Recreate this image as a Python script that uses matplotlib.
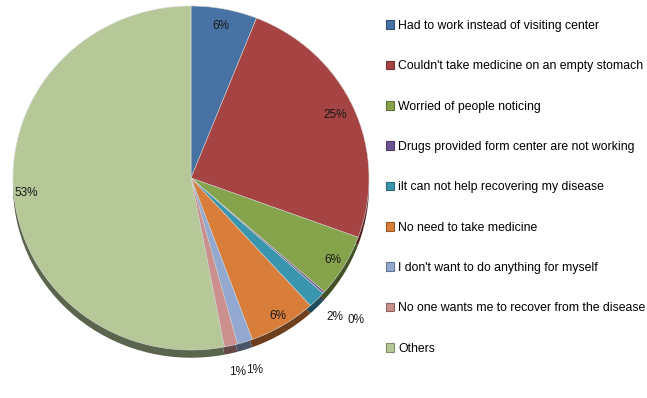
import numpy as np
import matplotlib.pyplot as plt
import matplotlib.colors as mcolors

# reasons and shares (percent)
reasons = [
    "Had to work instead of visiting center",
    "Couldn't take medicine on an empty stomach",
    "Worried of people noticing",
    "Drugs provided form center are not working",
    "ilt can not help recovering my disease",
    "No need to take medicine",
    "I don't want to do anything for myself",
    "No one wants me to recover from the disease",
    "Others",
]
shares = [6.0, 24.6, 5.9, 0.2, 1.6, 6.1, 1.4, 1.2, 53.0]
colors = ["#4872A3", "#A54442", "#85A34A", "#6E5591", "#3A96AE",
          "#D97E3A", "#93A9CF", "#CB8F8E", "#B6C897"]
# radial distance of each percentage label
label_r = [0.90, 0.89, 0.93, 1.24, 1.14, 0.94, 1.17, 1.16, 0.93]

plt.rcParams['font.family'] = ['Liberation Sans', 'DejaVu Sans']

fig = plt.figure(figsize=(6.47, 3.98), dpi=100)
W, H = 647, 398
cx, cy, rx, ry = 191, 220, 178, 172
ax = fig.add_axes([(cx - rx) / W, (cy - ry) / H, 2 * rx / W, 2 * ry / H])

# side of the 3d pie: darker copy shifted down
dark = [tuple(np.array(mcolors.to_rgb(c)) * 0.5) for c in colors]
ax.pie(shares, colors=dark, startangle=90, counterclock=False,
       center=(0, -0.045), radius=1,
       wedgeprops=dict(linewidth=0, zorder=1))
wedges, _ = ax.pie(shares, colors=colors, startangle=90, counterclock=False,
                   radius=1,
                   wedgeprops=dict(linewidth=0.4, edgecolor="#d8d8d8"))
for w in wedges:
    w.set_zorder(2)

for w, s, r in zip(wedges, shares, label_r):
    ang = np.deg2rad((w.theta1 + w.theta2) / 2)
    ax.text(r * np.cos(ang), r * np.sin(ang), "%.0f%%" % s,
            ha="center", va="center", fontsize=8.5, color="#1a1a1a", zorder=5)

ax.set_xlim(-1, 1)
ax.set_ylim(-1, 1)
ax.set_aspect("auto")
ax.axis("off")

fig.legend(wedges, reasons, loc="upper left", bbox_to_anchor=(381 / W, 1 - 15 / H),
           frameon=False, fontsize=8.8, labelspacing=2.32,
           handlelength=0.7, handleheight=0.7, handletextpad=0.3,
           borderaxespad=0)
for h in fig.legends[0].legend_handles:
    fc = np.array(mcolors.to_rgb(h.get_facecolor()))
    h.set_edgecolor(tuple(fc * 0.7))
    h.set_linewidth(0.8)

fig.savefig("out.png", dpi=100)
